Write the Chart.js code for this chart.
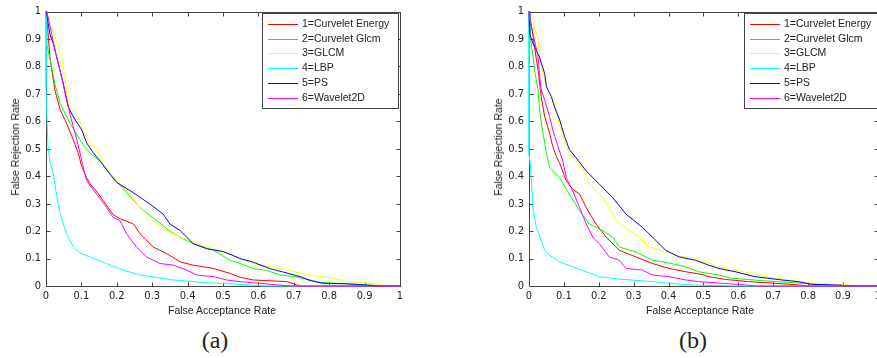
<!DOCTYPE html>
<html>
<head>
<meta charset="utf-8">
<script src="https://cdn.jsdelivr.net/npm/chart.js@4/dist/chart.umd.min.js"></script>
<style>
html, body { margin: 0; padding: 0; width: 877px; height: 358px; overflow: hidden; background: #fff; }
body { position: relative; font-family: Arial, "Liberation Sans", sans-serif; color: #222; }
.panel { position: absolute; top: 0; }
.ytitle { position: absolute; font-size: 10.5px; transform: translate(-50%, -50%) rotate(-90deg); white-space: nowrap; }
.xtitle { position: absolute; font-size: 10.5px; transform: translate(-50%, -50%); white-space: nowrap; }
.caption { position: absolute; font-family: "Liberation Serif", "Times New Roman", serif; font-size: 24px; transform: translate(-50%, -50%); }
</style>
</head>
<body>
<div class="panel" style="left:0;width:420px;height:320px"><canvas id="chartA" width="420" height="320"></canvas></div>
<div class="panel" style="left:483px;width:402px;height:320px"><canvas id="chartB" width="402" height="320"></canvas></div>
<div class="ytitle" style="left:15px;top:147px">False Rejection Rate</div>
<div class="ytitle" style="left:498px;top:147px">False Rejection Rate</div>
<div class="xtitle" style="left:222px;top:310px">False Acceptance Rate</div>
<div class="xtitle" style="left:700px;top:310px">False Acceptance Rate</div>
<div class="caption" style="left:215px;top:340px">(a)</div>
<div class="caption" style="left:693px;top:340px">(b)</div>
<script>
// series names (legend)
const seriesNames = ['1=Curvelet Energy', '2=Curvelet Glcm', '3=GLCM', '4=LBP', '5=PS', '6=Wavelet2D'];
const axisTicks = [0, 0.1, 0.2, 0.3, 0.4, 0.5, 0.6, 0.7, 0.8, 0.9, 1];

// (a) FAR / FRR pairs
const aEnergy = [[0,1],[0.004,0.95],[0.011,0.834],[0.025,0.714],[0.04,0.643],[0.058,0.593],[0.077,0.533],[0.091,0.485],[0.1,0.44],[0.11,0.407],[0.124,0.372],[0.14,0.35],[0.162,0.31],[0.19,0.26],[0.209,0.245],[0.247,0.226],[0.266,0.19],[0.303,0.142],[0.341,0.118],[0.379,0.088],[0.416,0.076],[0.473,0.064],[0.52,0.046],[0.548,0.032],[0.585,0.022],[0.68,0.016],[0.708,0.004],[0.72,0],[1,0]];
const aGlcm = [[0,1],[0.002,0.882],[0.016,0.798],[0.025,0.737],[0.04,0.665],[0.068,0.593],[0.096,0.533],[0.105,0.515],[0.124,0.485],[0.153,0.455],[0.2,0.383],[0.228,0.34],[0.266,0.286],[0.313,0.238],[0.35,0.2],[0.379,0.178],[0.416,0.154],[0.473,0.13],[0.52,0.094],[0.548,0.082],[0.585,0.064],[0.623,0.057],[0.661,0.04],[0.7,0.035],[0.746,0.022],[0.774,0.013],[0.868,0.007],[0.97,0],[1,0]];
const aGlcmTex = [[0.002,1],[0.016,0.942],[0.03,0.894],[0.044,0.834],[0.054,0.75],[0.063,0.665],[0.072,0.641],[0.091,0.617],[0.105,0.569],[0.124,0.515],[0.143,0.503],[0.162,0.443],[0.2,0.383],[0.228,0.347],[0.266,0.286],[0.303,0.238],[0.341,0.202],[0.379,0.178],[0.416,0.16],[0.454,0.142],[0.501,0.124],[0.548,0.1],[0.585,0.082],[0.68,0.058],[0.746,0.04],[0.812,0.028],[0.85,0.016],[0.915,0.01],[0.962,0.002],[0.975,0],[1,0]];
const aLbp = [[0,1],[0,0.725],[0.003,0.6],[0.006,0.5],[0.012,0.45],[0.021,0.407],[0.03,0.33],[0.04,0.263],[0.058,0.19],[0.077,0.142],[0.096,0.12],[0.124,0.106],[0.171,0.082],[0.218,0.058],[0.266,0.04],[0.36,0.022],[0.454,0.012],[0.548,0.006],[0.62,0],[1,0]];
const aPs = [[0,1],[0.002,0.99],[0.011,0.918],[0.021,0.882],[0.035,0.81],[0.049,0.737],[0.063,0.653],[0.077,0.617],[0.101,0.569],[0.115,0.521],[0.134,0.485],[0.153,0.455],[0.181,0.407],[0.2,0.377],[0.247,0.34],[0.294,0.298],[0.331,0.262],[0.35,0.226],[0.379,0.202],[0.416,0.154],[0.454,0.136],[0.501,0.125],[0.529,0.111],[0.548,0.1],[0.585,0.087],[0.633,0.063],[0.67,0.051],[0.718,0.034],[0.746,0.02],[0.78,0.01],[0.85,0.008],[0.94,0],[1,0]];
const aWavelet = [[0,1],[0.004,0.99],[0.016,0.918],[0.03,0.834],[0.044,0.762],[0.058,0.678],[0.072,0.605],[0.087,0.533],[0.096,0.485],[0.101,0.455],[0.115,0.383],[0.143,0.335],[0.171,0.286],[0.19,0.25],[0.209,0.238],[0.228,0.19],[0.256,0.142],[0.284,0.106],[0.322,0.082],[0.36,0.076],[0.397,0.058],[0.426,0.04],[0.473,0.034],[0.51,0.022],[0.548,0.016],[0.6,0.01],[0.67,0.002],[0.7,0],[1,0]];

// (b)
const bEnergy = [[0,1],[0.002,0.98],[0.007,0.95],[0.016,0.87],[0.026,0.786],[0.035,0.69],[0.045,0.617],[0.059,0.557],[0.068,0.509],[0.078,0.473],[0.087,0.45],[0.107,0.383],[0.125,0.353],[0.145,0.335],[0.164,0.286],[0.192,0.226],[0.221,0.178],[0.259,0.13],[0.306,0.106],[0.354,0.082],[0.401,0.064],[0.449,0.052],[0.496,0.042],[0.515,0.034],[0.563,0.024],[0.629,0.016],[0.705,0.01],[0.771,0.004],[0.81,0],[1,0]];
const bGlcm = [[0,1],[0.002,0.95],[0.007,0.87],[0.012,0.834],[0.016,0.786],[0.026,0.714],[0.03,0.641],[0.04,0.557],[0.05,0.485],[0.059,0.43],[0.088,0.394],[0.116,0.334],[0.145,0.274],[0.173,0.226],[0.211,0.202],[0.24,0.178],[0.259,0.142],[0.306,0.124],[0.354,0.094],[0.401,0.084],[0.449,0.07],[0.486,0.052],[0.544,0.04],[0.582,0.028],[0.705,0.016],[0.838,0.006],[0.886,0],[1,0]];
const bGlcmTex = [[0.002,1],[0.016,0.942],[0.026,0.894],[0.03,0.834],[0.04,0.774],[0.054,0.714],[0.068,0.69],[0.078,0.629],[0.092,0.569],[0.107,0.509],[0.125,0.46],[0.154,0.43],[0.173,0.371],[0.202,0.335],[0.23,0.286],[0.249,0.238],[0.287,0.202],[0.316,0.178],[0.344,0.142],[0.382,0.13],[0.42,0.112],[0.477,0.1],[0.544,0.07],[0.601,0.055],[0.639,0.046],[0.677,0.034],[0.743,0.022],[0.8,0.012],[0.905,0.006],[0.934,0],[1,0]];
const bLbp = [[0,1],[0,0.48],[0.004,0.44],[0.007,0.383],[0.011,0.286],[0.021,0.214],[0.035,0.166],[0.045,0.13],[0.059,0.112],[0.088,0.088],[0.125,0.07],[0.164,0.052],[0.202,0.034],[0.259,0.025],[0.354,0.016],[0.42,0.008],[0.468,0.003],[0.62,0],[1,0]];
const bPs = [[0,1],[0.002,0.918],[0.012,0.882],[0.03,0.834],[0.045,0.774],[0.05,0.726],[0.064,0.69],[0.073,0.653],[0.088,0.605],[0.102,0.545],[0.116,0.497],[0.135,0.467],[0.164,0.419],[0.202,0.371],[0.24,0.322],[0.278,0.262],[0.325,0.214],[0.354,0.178],[0.392,0.13],[0.43,0.106],[0.477,0.094],[0.515,0.076],[0.544,0.064],[0.591,0.052],[0.648,0.034],[0.724,0.022],[0.771,0.016],[0.81,0.006],[0.896,0.003],[0.905,0],[1,0]];
const bWavelet = [[0,1],[0.002,0.97],[0.016,0.894],[0.026,0.834],[0.03,0.774],[0.035,0.714],[0.045,0.678],[0.059,0.617],[0.068,0.569],[0.083,0.509],[0.097,0.455],[0.107,0.395],[0.125,0.347],[0.145,0.286],[0.164,0.226],[0.183,0.178],[0.202,0.154],[0.23,0.106],[0.259,0.094],[0.278,0.064],[0.325,0.058],[0.354,0.04],[0.401,0.034],[0.449,0.022],[0.486,0.016],[0.553,0.01],[0.629,0.003],[0.65,0],[1,0]];

const lineColors = ['#ff0000', '#00ff00', '#ffff00', '#00ffff', '#0000ff', '#ff00ff'];

// matlab-ish axes box with inward ticks
const boxPlugin = {
  id: 'matlabBox',
  beforeDatasetsDraw(chart) {
    const { ctx, chartArea: a, scales } = chart;
    const L = Math.round(a.left) + 0.5, R = Math.round(a.right) + 0.5;
    const T = Math.round(a.top) + 0.5, B = Math.round(a.bottom) + 0.5;
    ctx.save();
    ctx.strokeStyle = '#444';
    ctx.lineWidth = 1;
    ctx.strokeRect(L, T, R - L, B - T);
    ctx.beginPath();
    scales.x.ticks.forEach(t => {
      const px = Math.round(scales.x.getPixelForValue(t.value)) + 0.5;
      ctx.moveTo(px, B); ctx.lineTo(px, B - 4);
      ctx.moveTo(px, T); ctx.lineTo(px, T + 4);
    });
    scales.y.ticks.forEach(t => {
      const py = Math.round(scales.y.getPixelForValue(t.value)) + 0.5;
      ctx.moveTo(L, py); ctx.lineTo(L + 4, py);
      ctx.moveTo(R, py); ctx.lineTo(R - 4, py);
    });
    ctx.stroke();
    ctx.restore();
  }
};

// legend box inside the axes, drawn over the lines
const boxLegend = {
  id: 'boxLegend',
  afterDraw(chart, args, opts) {
    const { ctx } = chart;
    const x = opts.x, y = opts.y, w = opts.w, h = opts.h;
    ctx.save();
    ctx.fillStyle = '#fff';
    ctx.fillRect(x, y, w, h);
    ctx.strokeStyle = '#444';
    ctx.lineWidth = 1;
    ctx.strokeRect(x + 0.5, y + 0.5, w, h);
    ctx.font = '10.5px Arial, "Liberation Sans", sans-serif';
    ctx.textBaseline = 'middle';
    ctx.fillStyle = '#222';
    chart.data.datasets.forEach((ds, i) => {
      const cy = Math.round(y + 11 + i * 14.7) + 0.5;
      ctx.strokeStyle = ds.borderColor;
      ctx.beginPath();
      ctx.moveTo(x + 6, cy);
      ctx.lineTo(x + 36, cy);
      ctx.stroke();
      ctx.fillText(ds.label, x + 40, cy);
    });
    ctx.restore();
  }
};

const tickFont = { family: '"Liberation Sans Narrow", "DejaVu Sans Condensed", Arial, "Liberation Sans", sans-serif', size: 11 };

function makeChart(id, series, padRight, legendPos) {
  return new Chart(document.getElementById(id), {
    type: 'line',
    data: {
      datasets: series.map((pts, i) => ({
        label: seriesNames[i],
        data: pts.map(p => ({ x: p[0], y: p[1] })),
        borderColor: lineColors[i],
        borderWidth: 1,
        pointRadius: 0,
        tension: 0,
        fill: false,
        clip: 3,
        order: series.length - i
      }))
    },
    options: {
      responsive: false,
      animation: false,
      layout: { padding: { left: 0, right: padRight, top: 9, bottom: 0 } },
      plugins: { legend: { display: false }, tooltip: { enabled: false }, boxLegend: legendPos },
      scales: {
        x: {
          type: 'linear', min: 0, max: 1,
          afterBuildTicks: s => { s.ticks = axisTicks.map(v => ({ value: v })); },
          afterFit: s => { s.height = 34; },
          grid: { display: false, drawTicks: false },
          border: { display: false },
          ticks: { color: '#222', font: tickFont, padding: 4, maxRotation: 0, autoSkip: false, callback: v => String(+v.toFixed(1)) }
        },
        y: {
          type: 'linear', min: 0, max: 1,
          afterBuildTicks: s => { s.ticks = axisTicks.map(v => ({ value: v })); },
          afterFit: s => { s.width = 46; },
          grid: { display: false, drawTicks: false },
          border: { display: false },
          ticks: { color: '#222', font: tickFont, padding: 5, autoSkip: false, callback: v => String(+v.toFixed(1)) }
        }
      }
    },
    plugins: [boxPlugin, boxLegend]
  });
}

makeChart('chartA', [aEnergy, aGlcm, aGlcmTex, aLbp, aPs, aWavelet], 20, { x: 262, y: 13, w: 136, h: 95 });
makeChart('chartB', [bEnergy, bGlcm, bGlcmTex, bLbp, bPs, bWavelet], 5, { x: 261, y: 13, w: 140, h: 95 });
</script>
</body>
</html>
